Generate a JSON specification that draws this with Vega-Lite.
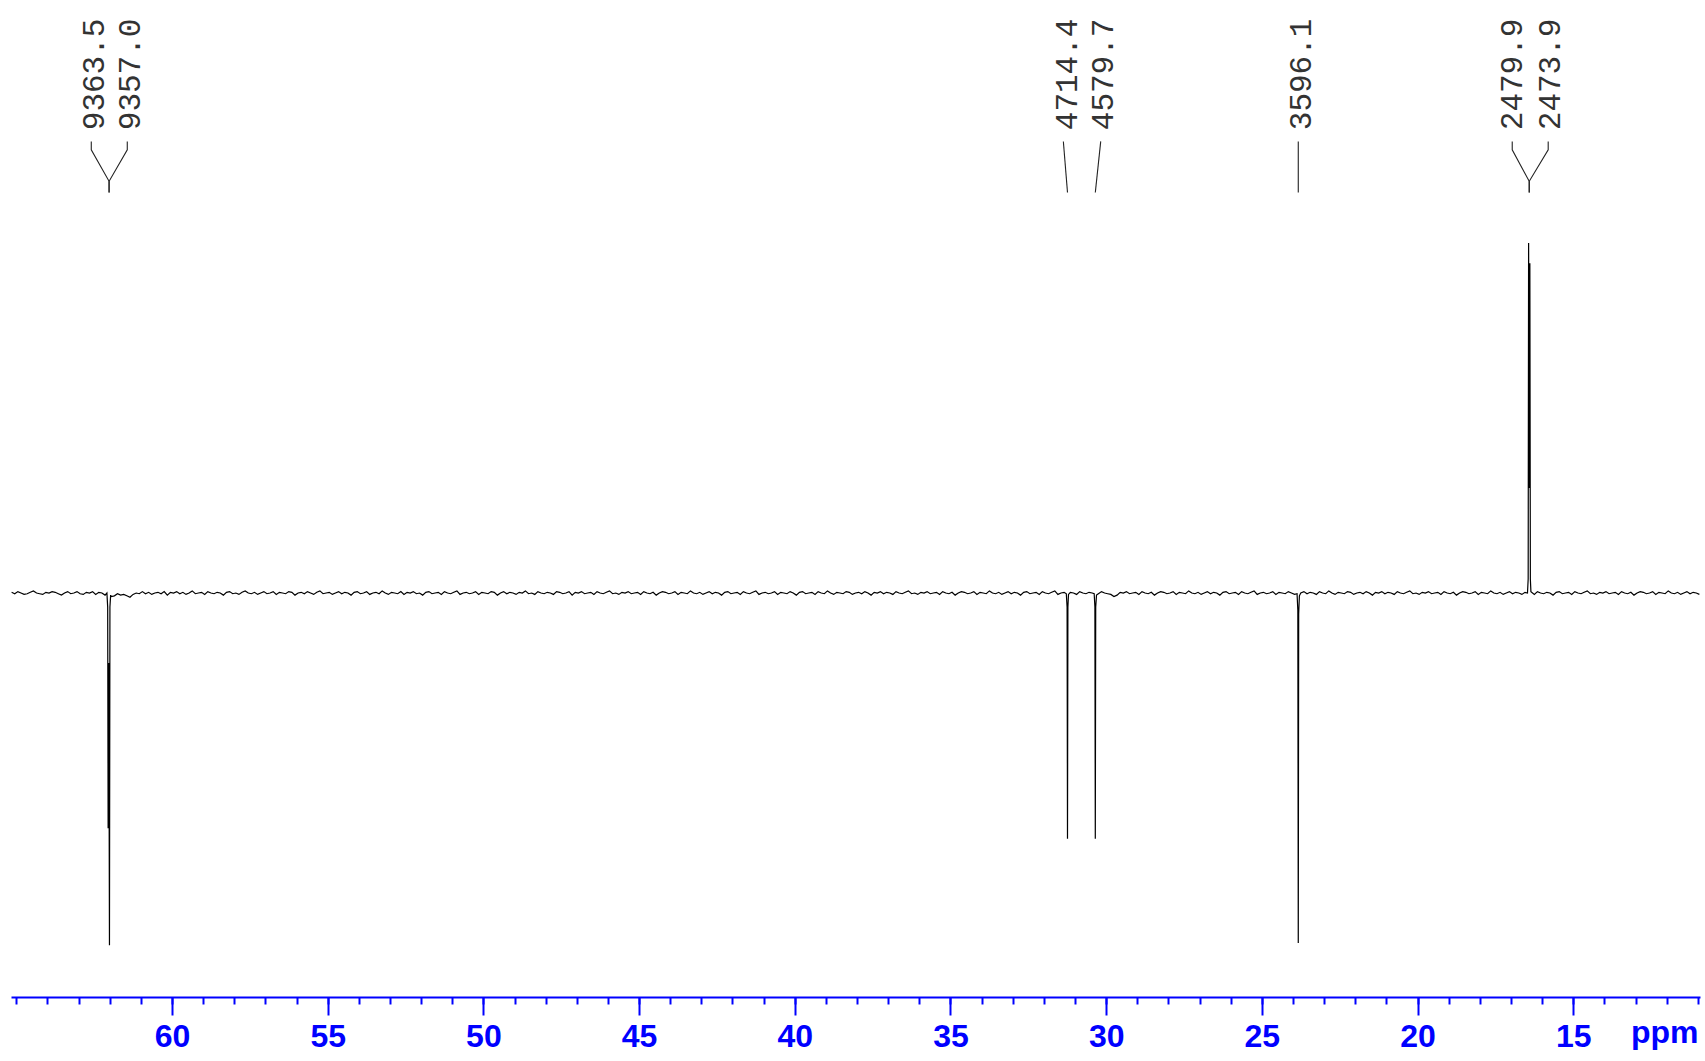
{
  "$schema": "https://vega.github.io/schema/vega-lite/v6.json",
  "width": 1689,
  "height": 997,
  "autosize": "none",
  "padding": {"left": 11, "top": 0, "right": 5, "bottom": 64},
  "background": "white",
  "config": {"view": {"stroke": null}},
  "datasets": {
    "spectrum": [
      {"ppm":65.15,"i":0.1},{"ppm":65.05,"i":-0.1},{"ppm":64.95,"i":0.2},{"ppm":64.85,"i":0.0},{"ppm":64.75,"i":-0.2},{"ppm":64.65,"i":-0.1},{"ppm":64.55,"i":0.1},{"ppm":64.45,"i":0.3},{"ppm":64.35,"i":0.0},{"ppm":64.25,"i":-0.1},
      {"ppm":64.15,"i":-0.2},{"ppm":64.05,"i":0.1},{"ppm":63.95,"i":0.0},{"ppm":63.85,"i":0.2},{"ppm":63.75,"i":0.1},{"ppm":63.65,"i":-0.1},{"ppm":63.55,"i":-0.3},{"ppm":63.45,"i":0.0},{"ppm":63.35,"i":0.2},{"ppm":63.25,"i":-0.1},
      {"ppm":63.15,"i":0.0},{"ppm":63.05,"i":0.2},{"ppm":62.95,"i":-0.1},{"ppm":62.85,"i":-0.2},{"ppm":62.75,"i":0.1},{"ppm":62.65,"i":0.0},{"ppm":62.55,"i":0.2},{"ppm":62.45,"i":-0.2},{"ppm":62.35,"i":0.1},{"ppm":62.25,"i":0.0},{"ppm":62.15,"i":-0.3},
      {"ppm":62.09,"i":0.0},{"ppm":62.065,"i":-2},{"ppm":62.051,"i":-33.6},{"ppm":62.03,"i":-10},{"ppm":62.008,"i":-50.3},{"ppm":61.993,"i":-2},{"ppm":61.97,"i":-0.3},
      {"ppm":61.95,"i":-0.5},{"ppm":61.85,"i":-0.4},{"ppm":61.75,"i":-0.1},{"ppm":61.65,"i":-0.3},{"ppm":61.55,"i":-0.2},{"ppm":61.45,"i":-0.4},{"ppm":61.35,"i":-0.6},{"ppm":61.25,"i":-0.2},{"ppm":61.15,"i":0.0},{"ppm":61.05,"i":-0.1},
      {"ppm":60.95,"i":0.2},{"ppm":60.85,"i":-0.1},{"ppm":60.75,"i":0.1},{"ppm":60.65,"i":-0.2},{"ppm":60.55,"i":0.0},{"ppm":60.45,"i":0.1},{"ppm":60.35,"i":-0.1},{"ppm":60.25,"i":0.2},{"ppm":60.15,"i":-0.3},{"ppm":60.05,"i":0.1},
      {"ppm":59.95,"i":0.0},{"ppm":59.85,"i":0.2},{"ppm":59.75,"i":-0.1},{"ppm":59.65,"i":0.1},{"ppm":59.55,"i":-0.2},{"ppm":59.45,"i":0.0},{"ppm":59.35,"i":0.3},{"ppm":59.25,"i":-0.1},{"ppm":59.15,"i":0.0},{"ppm":59.05,"i":0.1},
      {"ppm":58.95,"i":-0.2},{"ppm":58.85,"i":0.2},{"ppm":58.75,"i":0.0},{"ppm":58.65,"i":-0.1},{"ppm":58.55,"i":0.1},{"ppm":58.45,"i":0.0},{"ppm":58.35,"i":-0.3},{"ppm":58.25,"i":0.1},{"ppm":58.15,"i":0.2},{"ppm":58.05,"i":-0.1},
      {"ppm":57.95,"i":0.0},{"ppm":57.85,"i":-0.2},{"ppm":57.75,"i":0.1},{"ppm":57.65,"i":0.3},{"ppm":57.55,"i":0.0},{"ppm":57.45,"i":-0.1},{"ppm":57.35,"i":0.1},{"ppm":57.25,"i":-0.2},{"ppm":57.15,"i":0.0},{"ppm":57.05,"i":0.2},
      {"ppm":56.95,"i":-0.1},{"ppm":56.85,"i":0.0},{"ppm":56.75,"i":0.2},{"ppm":56.65,"i":-0.2},{"ppm":56.55,"i":0.1},{"ppm":56.45,"i":0.0},{"ppm":56.35,"i":-0.1},{"ppm":56.25,"i":0.2},{"ppm":56.15,"i":0.1},{"ppm":56.05,"i":-0.3},
      {"ppm":55.95,"i":0.0},{"ppm":55.85,"i":0.1},{"ppm":55.75,"i":-0.1},{"ppm":55.65,"i":0.2},{"ppm":55.55,"i":0.0},{"ppm":55.45,"i":-0.2},{"ppm":55.35,"i":0.1},{"ppm":55.25,"i":0.3},{"ppm":55.15,"i":-0.1},{"ppm":55.05,"i":0.0},
      {"ppm":54.95,"i":0.1},{"ppm":54.85,"i":-0.2},{"ppm":54.75,"i":0.0},{"ppm":54.65,"i":0.2},{"ppm":54.55,"i":-0.1},{"ppm":54.45,"i":0.1},{"ppm":54.35,"i":0.0},{"ppm":54.25,"i":-0.3},{"ppm":54.15,"i":0.1},{"ppm":54.05,"i":0.2},
      {"ppm":53.95,"i":-0.1},{"ppm":53.85,"i":0.0},{"ppm":53.75,"i":0.2},{"ppm":53.65,"i":-0.2},{"ppm":53.55,"i":0.0},{"ppm":53.45,"i":0.1},{"ppm":53.35,"i":-0.1},{"ppm":53.25,"i":0.3},{"ppm":53.15,"i":0.0},{"ppm":53.05,"i":-0.2},
      {"ppm":52.95,"i":0.1},{"ppm":52.85,"i":0.0},{"ppm":52.75,"i":-0.1},{"ppm":52.65,"i":0.2},{"ppm":52.55,"i":-0.2},{"ppm":52.45,"i":0.1},{"ppm":52.35,"i":0.0},{"ppm":52.25,"i":0.2},{"ppm":52.15,"i":-0.1},{"ppm":52.05,"i":0.0},
      {"ppm":51.95,"i":-0.3},{"ppm":51.85,"i":0.1},{"ppm":51.75,"i":0.2},{"ppm":51.65,"i":-0.1},{"ppm":51.55,"i":0.0},{"ppm":51.45,"i":0.1},{"ppm":51.35,"i":-0.2},{"ppm":51.25,"i":0.2},{"ppm":51.15,"i":0.0},{"ppm":51.05,"i":-0.1},
      {"ppm":50.95,"i":0.1},{"ppm":50.85,"i":0.3},{"ppm":50.75,"i":-0.2},{"ppm":50.65,"i":0.0},{"ppm":50.55,"i":0.1},{"ppm":50.45,"i":-0.1},{"ppm":50.35,"i":0.0},{"ppm":50.25,"i":0.2},{"ppm":50.15,"i":-0.2},{"ppm":50.05,"i":0.1},
      {"ppm":49.95,"i":0.0},{"ppm":49.85,"i":-0.1},{"ppm":49.75,"i":0.2},{"ppm":49.65,"i":0.1},{"ppm":49.55,"i":-0.3},{"ppm":49.45,"i":0.0},{"ppm":49.35,"i":0.2},{"ppm":49.25,"i":-0.1},{"ppm":49.15,"i":0.1},{"ppm":49.05,"i":0.0},
      {"ppm":48.95,"i":-0.2},{"ppm":48.85,"i":0.1},{"ppm":48.75,"i":0.0},{"ppm":48.65,"i":0.3},{"ppm":48.55,"i":-0.1},{"ppm":48.45,"i":0.0},{"ppm":48.35,"i":-0.2},{"ppm":48.25,"i":0.2},{"ppm":48.15,"i":0.0},{"ppm":48.05,"i":-0.1},
      {"ppm":47.95,"i":0.1},{"ppm":47.85,"i":0.0},{"ppm":47.75,"i":-0.2},{"ppm":47.65,"i":0.2},{"ppm":47.55,"i":0.1},{"ppm":47.45,"i":-0.1},{"ppm":47.35,"i":0.0},{"ppm":47.25,"i":0.2},{"ppm":47.15,"i":-0.3},{"ppm":47.05,"i":0.1},
      {"ppm":46.95,"i":0.0},{"ppm":46.85,"i":0.2},{"ppm":46.75,"i":-0.1},{"ppm":46.65,"i":0.0},{"ppm":46.55,"i":0.1},{"ppm":46.45,"i":-0.2},{"ppm":46.35,"i":0.2},{"ppm":46.25,"i":0.0},{"ppm":46.15,"i":-0.1},{"ppm":46.05,"i":0.1},
      {"ppm":45.95,"i":0.3},{"ppm":45.85,"i":-0.1},{"ppm":45.75,"i":0.0},{"ppm":45.65,"i":-0.2},{"ppm":45.55,"i":0.1},{"ppm":45.45,"i":0.0},{"ppm":45.35,"i":0.2},{"ppm":45.25,"i":-0.1},{"ppm":45.15,"i":0.0},{"ppm":45.05,"i":0.1},
      {"ppm":44.95,"i":-0.2},{"ppm":44.85,"i":0.2},{"ppm":44.75,"i":0.0},{"ppm":44.65,"i":-0.1},{"ppm":44.55,"i":0.1},{"ppm":44.45,"i":-0.3},{"ppm":44.35,"i":0.0},{"ppm":44.25,"i":0.2},{"ppm":44.15,"i":0.1},{"ppm":44.05,"i":-0.1},
      {"ppm":43.95,"i":0.0},{"ppm":43.85,"i":0.2},{"ppm":43.75,"i":-0.2},{"ppm":43.65,"i":0.1},{"ppm":43.55,"i":0.0},{"ppm":43.45,"i":-0.1},{"ppm":43.35,"i":0.3},{"ppm":43.25,"i":0.0},{"ppm":43.15,"i":-0.1},{"ppm":43.05,"i":0.1},
      {"ppm":42.95,"i":-0.2},{"ppm":42.85,"i":0.0},{"ppm":42.75,"i":0.2},{"ppm":42.65,"i":-0.1},{"ppm":42.55,"i":0.1},{"ppm":42.45,"i":0.0},{"ppm":42.35,"i":-0.3},{"ppm":42.25,"i":0.1},{"ppm":42.15,"i":0.2},{"ppm":42.05,"i":-0.1},
      {"ppm":41.95,"i":0.0},{"ppm":41.85,"i":0.1},{"ppm":41.75,"i":-0.2},{"ppm":41.65,"i":0.2},{"ppm":41.55,"i":0.0},{"ppm":41.45,"i":-0.1},{"ppm":41.35,"i":0.1},{"ppm":41.25,"i":0.3},{"ppm":41.15,"i":-0.2},{"ppm":41.05,"i":0.0},
      {"ppm":40.95,"i":0.1},{"ppm":40.85,"i":-0.1},{"ppm":40.75,"i":0.0},{"ppm":40.65,"i":0.2},{"ppm":40.55,"i":-0.2},{"ppm":40.45,"i":0.1},{"ppm":40.35,"i":0.0},{"ppm":40.25,"i":-0.1},{"ppm":40.15,"i":0.2},{"ppm":40.05,"i":0.0},
      {"ppm":39.95,"i":-0.3},{"ppm":39.85,"i":0.1},{"ppm":39.75,"i":0.2},{"ppm":39.65,"i":-0.1},{"ppm":39.55,"i":0.0},{"ppm":39.45,"i":0.1},{"ppm":39.35,"i":-0.2},{"ppm":39.25,"i":0.2},{"ppm":39.15,"i":0.0},{"ppm":39.05,"i":-0.1},
      {"ppm":38.95,"i":0.3},{"ppm":38.85,"i":0.0},{"ppm":38.75,"i":-0.2},{"ppm":38.65,"i":0.1},{"ppm":38.55,"i":0.0},{"ppm":38.45,"i":-0.1},{"ppm":38.35,"i":0.2},{"ppm":38.25,"i":0.1},{"ppm":38.15,"i":-0.2},{"ppm":38.05,"i":0.0},
      {"ppm":37.95,"i":0.1},{"ppm":37.85,"i":-0.1},{"ppm":37.75,"i":0.2},{"ppm":37.65,"i":0.0},{"ppm":37.55,"i":-0.3},{"ppm":37.45,"i":0.1},{"ppm":37.35,"i":0.0},{"ppm":37.25,"i":0.2},{"ppm":37.15,"i":-0.1},{"ppm":37.05,"i":0.1},
      {"ppm":36.95,"i":0.0},{"ppm":36.85,"i":-0.2},{"ppm":36.75,"i":0.2},{"ppm":36.65,"i":0.0},{"ppm":36.55,"i":-0.1},{"ppm":36.45,"i":0.1},{"ppm":36.35,"i":0.3},{"ppm":36.25,"i":-0.1},{"ppm":36.15,"i":0.0},{"ppm":36.05,"i":-0.2},
      {"ppm":35.95,"i":0.1},{"ppm":35.85,"i":0.0},{"ppm":35.75,"i":0.2},{"ppm":35.65,"i":-0.1},{"ppm":35.55,"i":0.0},{"ppm":35.45,"i":0.1},{"ppm":35.35,"i":-0.2},{"ppm":35.25,"i":0.2},{"ppm":35.15,"i":0.0},{"ppm":35.05,"i":-0.1},
      {"ppm":34.95,"i":0.1},{"ppm":34.85,"i":-0.3},{"ppm":34.75,"i":0.0},{"ppm":34.65,"i":0.2},{"ppm":34.55,"i":0.1},{"ppm":34.45,"i":-0.1},{"ppm":34.35,"i":0.0},{"ppm":34.25,"i":0.2},{"ppm":34.15,"i":-0.2},{"ppm":34.05,"i":0.1},
      {"ppm":33.95,"i":0.0},{"ppm":33.85,"i":-0.1},{"ppm":33.75,"i":0.3},{"ppm":33.65,"i":0.0},{"ppm":33.55,"i":-0.1},{"ppm":33.45,"i":0.1},{"ppm":33.35,"i":-0.2},{"ppm":33.25,"i":0.0},{"ppm":33.15,"i":0.2},{"ppm":33.05,"i":-0.1},
      {"ppm":32.95,"i":0.1},{"ppm":32.85,"i":0.0},{"ppm":32.75,"i":-0.3},{"ppm":32.65,"i":0.1},{"ppm":32.55,"i":0.2},{"ppm":32.45,"i":-0.1},{"ppm":32.35,"i":0.0},{"ppm":32.25,"i":0.1},{"ppm":32.15,"i":-0.2},{"ppm":32.05,"i":0.2},
      {"ppm":31.95,"i":0.0},{"ppm":31.85,"i":-0.1},{"ppm":31.75,"i":0.1},{"ppm":31.65,"i":0.3},{"ppm":31.55,"i":-0.2},{"ppm":31.45,"i":0.0},{"ppm":31.35,"i":0.1},
      {"ppm":31.28,"i":-0.1},{"ppm":31.255,"i":-2},{"ppm":31.242,"i":-35.1},{"ppm":31.229,"i":-2},{"ppm":31.21,"i":-0.2},
      {"ppm":31.15,"i":0.1},{"ppm":31.05,"i":0.0},{"ppm":30.95,"i":-0.2},{"ppm":30.85,"i":0.2},{"ppm":30.75,"i":0.0},{"ppm":30.65,"i":-0.1},{"ppm":30.55,"i":0.1},{"ppm":30.45,"i":0.0},
      {"ppm":30.385,"i":-0.1},{"ppm":30.362,"i":-2},{"ppm":30.349,"i":-35.1},{"ppm":30.336,"i":-2},{"ppm":30.31,"i":-0.3},
      {"ppm":30.25,"i":-0.1},{"ppm":30.15,"i":0.2},{"ppm":30.05,"i":0.0},{"ppm":29.95,"i":-0.1},{"ppm":29.85,"i":-0.2},{"ppm":29.75,"i":-0.5},{"ppm":29.65,"i":-0.3},{"ppm":29.55,"i":0.1},{"ppm":29.45,"i":0.0},{"ppm":29.35,"i":0.2},
      {"ppm":29.25,"i":-0.1},{"ppm":29.15,"i":0.0},{"ppm":29.05,"i":0.1},{"ppm":28.95,"i":-0.2},{"ppm":28.85,"i":0.2},{"ppm":28.75,"i":0.0},{"ppm":28.65,"i":-0.1},{"ppm":28.55,"i":0.1},{"ppm":28.45,"i":-0.3},{"ppm":28.35,"i":0.0},
      {"ppm":28.25,"i":0.2},{"ppm":28.15,"i":0.1},{"ppm":28.05,"i":-0.1},{"ppm":27.95,"i":0.0},{"ppm":27.85,"i":0.2},{"ppm":27.75,"i":-0.2},{"ppm":27.65,"i":0.1},{"ppm":27.55,"i":0.0},{"ppm":27.45,"i":-0.1},{"ppm":27.35,"i":0.3},
      {"ppm":27.25,"i":0.0},{"ppm":27.15,"i":-0.1},{"ppm":27.05,"i":0.1},{"ppm":26.95,"i":-0.2},{"ppm":26.85,"i":0.0},{"ppm":26.75,"i":0.2},{"ppm":26.65,"i":-0.1},{"ppm":26.55,"i":0.1},{"ppm":26.45,"i":0.0},{"ppm":26.35,"i":-0.3},
      {"ppm":26.25,"i":0.1},{"ppm":26.15,"i":0.2},{"ppm":26.05,"i":-0.1},{"ppm":25.95,"i":0.0},{"ppm":25.85,"i":0.1},{"ppm":25.75,"i":-0.2},{"ppm":25.65,"i":0.2},{"ppm":25.55,"i":0.0},{"ppm":25.45,"i":-0.1},{"ppm":25.35,"i":0.1},
      {"ppm":25.25,"i":0.3},{"ppm":25.15,"i":-0.2},{"ppm":25.05,"i":0.0},{"ppm":24.95,"i":0.1},{"ppm":24.85,"i":-0.1},{"ppm":24.75,"i":0.0},{"ppm":24.65,"i":0.2},{"ppm":24.55,"i":-0.2},{"ppm":24.45,"i":0.1},{"ppm":24.35,"i":0.0},
      {"ppm":24.25,"i":-0.1},{"ppm":24.15,"i":0.2},{"ppm":24.05,"i":0.0},{"ppm":23.95,"i":-0.2},
      {"ppm":23.87,"i":-0.1},{"ppm":23.845,"i":-2.5},{"ppm":23.831,"i":-50},{"ppm":23.818,"i":-3},{"ppm":23.795,"i":-0.4},
      {"ppm":23.75,"i":0.0},{"ppm":23.65,"i":0.2},{"ppm":23.55,"i":-0.1},{"ppm":23.45,"i":0.1},{"ppm":23.35,"i":0.0},{"ppm":23.25,"i":-0.2},{"ppm":23.15,"i":0.2},{"ppm":23.05,"i":0.0},
      {"ppm":22.95,"i":-0.1},{"ppm":22.85,"i":0.3},{"ppm":22.75,"i":0.0},{"ppm":22.65,"i":-0.2},{"ppm":22.55,"i":0.1},{"ppm":22.45,"i":0.0},{"ppm":22.35,"i":-0.1},{"ppm":22.25,"i":0.2},{"ppm":22.15,"i":0.1},{"ppm":22.05,"i":-0.2},
      {"ppm":21.95,"i":0.0},{"ppm":21.85,"i":0.1},{"ppm":21.75,"i":-0.1},{"ppm":21.65,"i":0.2},{"ppm":21.55,"i":0.0},{"ppm":21.45,"i":-0.3},{"ppm":21.35,"i":0.1},{"ppm":21.25,"i":0.0},{"ppm":21.15,"i":0.2},{"ppm":21.05,"i":-0.1},
      {"ppm":20.95,"i":0.1},{"ppm":20.85,"i":0.0},{"ppm":20.75,"i":-0.2},{"ppm":20.65,"i":0.2},{"ppm":20.55,"i":0.0},{"ppm":20.45,"i":-0.1},{"ppm":20.35,"i":0.1},{"ppm":20.25,"i":0.3},{"ppm":20.15,"i":-0.1},{"ppm":20.05,"i":0.0},
      {"ppm":19.95,"i":-0.2},{"ppm":19.85,"i":0.1},{"ppm":19.75,"i":0.0},{"ppm":19.65,"i":0.2},{"ppm":19.55,"i":-0.1},{"ppm":19.45,"i":0.0},{"ppm":19.35,"i":0.1},{"ppm":19.25,"i":-0.2},{"ppm":19.15,"i":0.2},{"ppm":19.05,"i":0.0},
      {"ppm":18.95,"i":-0.1},{"ppm":18.85,"i":0.1},{"ppm":18.75,"i":-0.3},{"ppm":18.65,"i":0.0},{"ppm":18.55,"i":0.2},{"ppm":18.45,"i":0.1},{"ppm":18.35,"i":-0.1},{"ppm":18.25,"i":0.0},{"ppm":18.15,"i":0.2},{"ppm":18.05,"i":-0.2},
      {"ppm":17.95,"i":0.1},{"ppm":17.85,"i":0.0},{"ppm":17.75,"i":-0.1},{"ppm":17.65,"i":0.3},{"ppm":17.55,"i":0.0},{"ppm":17.45,"i":-0.1},{"ppm":17.35,"i":0.1},{"ppm":17.25,"i":-0.2},{"ppm":17.15,"i":0.0},{"ppm":17.05,"i":0.2},
      {"ppm":16.95,"i":-0.1},{"ppm":16.85,"i":0.1},{"ppm":16.75,"i":0.0},{"ppm":16.65,"i":-0.2},{"ppm":16.55,"i":0.1},
      {"ppm":16.47,"i":0.0},{"ppm":16.448,"i":2},{"ppm":16.434,"i":50},{"ppm":16.414,"i":15},{"ppm":16.394,"i":47.1},{"ppm":16.378,"i":2},{"ppm":16.36,"i":0.2},
      {"ppm":16.25,"i":-0.2},{"ppm":16.15,"i":0.2},{"ppm":16.05,"i":0.0},
      {"ppm":15.95,"i":-0.1},{"ppm":15.85,"i":0.1},{"ppm":15.75,"i":0.0},{"ppm":15.65,"i":-0.3},{"ppm":15.55,"i":0.1},{"ppm":15.45,"i":0.2},{"ppm":15.35,"i":-0.1},{"ppm":15.25,"i":0.0},{"ppm":15.15,"i":0.1},{"ppm":15.05,"i":-0.2},
      {"ppm":14.95,"i":0.2},{"ppm":14.85,"i":0.0},{"ppm":14.75,"i":-0.1},{"ppm":14.65,"i":0.1},{"ppm":14.55,"i":0.3},{"ppm":14.45,"i":-0.1},{"ppm":14.35,"i":0.0},{"ppm":14.25,"i":-0.2},{"ppm":14.15,"i":0.1},{"ppm":14.05,"i":0.0},
      {"ppm":13.95,"i":0.2},{"ppm":13.85,"i":-0.1},{"ppm":13.75,"i":0.0},{"ppm":13.65,"i":0.1},{"ppm":13.55,"i":-0.2},{"ppm":13.45,"i":0.2},{"ppm":13.35,"i":0.0},{"ppm":13.25,"i":-0.1},{"ppm":13.15,"i":0.1},{"ppm":13.05,"i":-0.3},
      {"ppm":12.95,"i":0.0},{"ppm":12.85,"i":0.2},{"ppm":12.75,"i":0.1},{"ppm":12.65,"i":-0.1},{"ppm":12.55,"i":0.0},{"ppm":12.45,"i":0.2},{"ppm":12.35,"i":-0.2},{"ppm":12.25,"i":0.1},{"ppm":12.15,"i":0.0},{"ppm":12.05,"i":-0.1},
      {"ppm":11.95,"i":0.3},{"ppm":11.85,"i":0.0},{"ppm":11.75,"i":-0.1},{"ppm":11.65,"i":0.1},{"ppm":11.55,"i":-0.2},{"ppm":11.45,"i":0.0},{"ppm":11.35,"i":0.2},{"ppm":11.25,"i":-0.1},{"ppm":11.15,"i":0.1},{"ppm":11.05,"i":0.0},{"ppm":10.95,"i":-0.2}
    ],
    "labels": [
      {"hz":"9363.5","ppm":62.463,"i":66.1},
      {"hz":"9357.0","ppm":61.308,"i":66.1},
      {"hz":"4714.4","ppm":31.21,"i":66.1},
      {"hz":"4579.7","ppm":30.059,"i":66.1},
      {"hz":"3596.1","ppm":23.70,"i":66.1},
      {"hz":"2479.9","ppm":16.93,"i":66.1},
      {"hz":"2473.9","ppm":15.72,"i":66.1}
    ],
    "leaders": [
      {"hz":"9363.5","k":1,"ppm":62.592,"i":64.5},{"hz":"9363.5","k":2,"ppm":62.592,"i":63.3},{"hz":"9363.5","k":3,"ppm":62.02,"i":58.8},{"hz":"9363.5","k":4,"ppm":62.02,"i":57.2},
      {"hz":"9357.0","k":1,"ppm":61.436,"i":64.5},{"hz":"9357.0","k":2,"ppm":61.436,"i":63.3},{"hz":"9357.0","k":3,"ppm":62.02,"i":58.8},{"hz":"9357.0","k":4,"ppm":62.02,"i":57.2},
      {"hz":"4714.4","k":1,"ppm":31.375,"i":64.5},{"hz":"4714.4","k":2,"ppm":31.242,"i":57.2},
      {"hz":"4579.7","k":1,"ppm":30.175,"i":64.5},{"hz":"4579.7","k":2,"ppm":30.349,"i":57.2},
      {"hz":"3596.1","k":1,"ppm":23.831,"i":64.5},{"hz":"3596.1","k":2,"ppm":23.831,"i":57.2},
      {"hz":"2479.9","k":1,"ppm":16.96,"i":64.5},{"hz":"2479.9","k":2,"ppm":16.96,"i":63.3},{"hz":"2479.9","k":3,"ppm":16.414,"i":58.8},{"hz":"2479.9","k":4,"ppm":16.414,"i":57.2},
      {"hz":"2473.9","k":1,"ppm":15.805,"i":64.5},{"hz":"2473.9","k":2,"ppm":15.805,"i":63.3},{"hz":"2473.9","k":3,"ppm":16.414,"i":58.8},{"hz":"2473.9","k":4,"ppm":16.414,"i":57.2}
    ]
  },
  "layer": [
    {
      "data": {"name": "spectrum"},
      "mark": {"type": "line", "color": "#000000", "strokeWidth": 1.2, "interpolate": "linear"},
      "encoding": {
        "x": {
          "field": "ppm", "type": "quantitative",
          "scale": {"domain": [10.93, 65.17], "reverse": true, "nice": false, "zero": false},
          "axis": {
            "orient": "bottom",
            "values": [15, 20, 25, 30, 35, 40, 45, 50, 55, 60],
            "format": "d",
            "grid": false,
            "domainColor": "#0000ff", "domainWidth": 2,
            "tickColor": "#0000ff", "tickWidth": 2, "tickSize": 18,
            "labelColor": "#0000ff", "labelFont": "Liberation Sans", "labelFontSize": 32, "labelFontWeight": "bold",
            "labelPadding": 6, "labelFlush": false, "labelOverlap": false,
            "title": "ppm",
            "titleColor": "#0000ff", "titleFont": "Liberation Sans", "titleFontSize": 32, "titleFontWeight": "bold",
            "titleAnchor": null, "titleAlign": "right", "titleBaseline": "alphabetic",
            "titleX": 1687, "titleY": 45
          }
        },
        "y": {
          "field": "i", "type": "quantitative",
          "scale": {"domain": [-57.7, 84.7], "nice": false, "zero": false},
          "axis": null
        }
      }
    },
    {
      "data": {"name": "leaders"},
      "mark": {"type": "line", "color": "#222222", "strokeWidth": 1.1},
      "encoding": {
        "x": {
          "field": "ppm", "type": "quantitative",
          "axis": {
            "orient": "bottom",
            "values": [11,12,13,14,15,16,17,18,19,20,21,22,23,24,25,26,27,28,29,30,31,32,33,34,35,36,37,38,39,40,41,42,43,44,45,46,47,48,49,50,51,52,53,54,55,56,57,58,59,60,61,62,63,64,65],
            "domain": false, "labels": false, "grid": false, "title": null,
            "tickColor": "#0000ff", "tickWidth": 2, "tickSize": 7
          }
        },
        "y": {"field": "i", "type": "quantitative", "axis": null},
        "detail": {"field": "hz"},
        "order": {"field": "k"}
      }
    },
    {
      "data": {"name": "labels"},
      "mark": {"type": "text", "angle": 270, "align": "left", "baseline": "middle", "font": "Liberation Mono", "fontSize": 31, "color": "#333333"},
      "encoding": {
        "x": {"field": "ppm", "type": "quantitative", "axis": null},
        "y": {"field": "i", "type": "quantitative", "axis": null},
        "text": {"field": "hz"}
      }
    }
  ],
  "resolve": {"axis": {"x": "independent"}}
}
